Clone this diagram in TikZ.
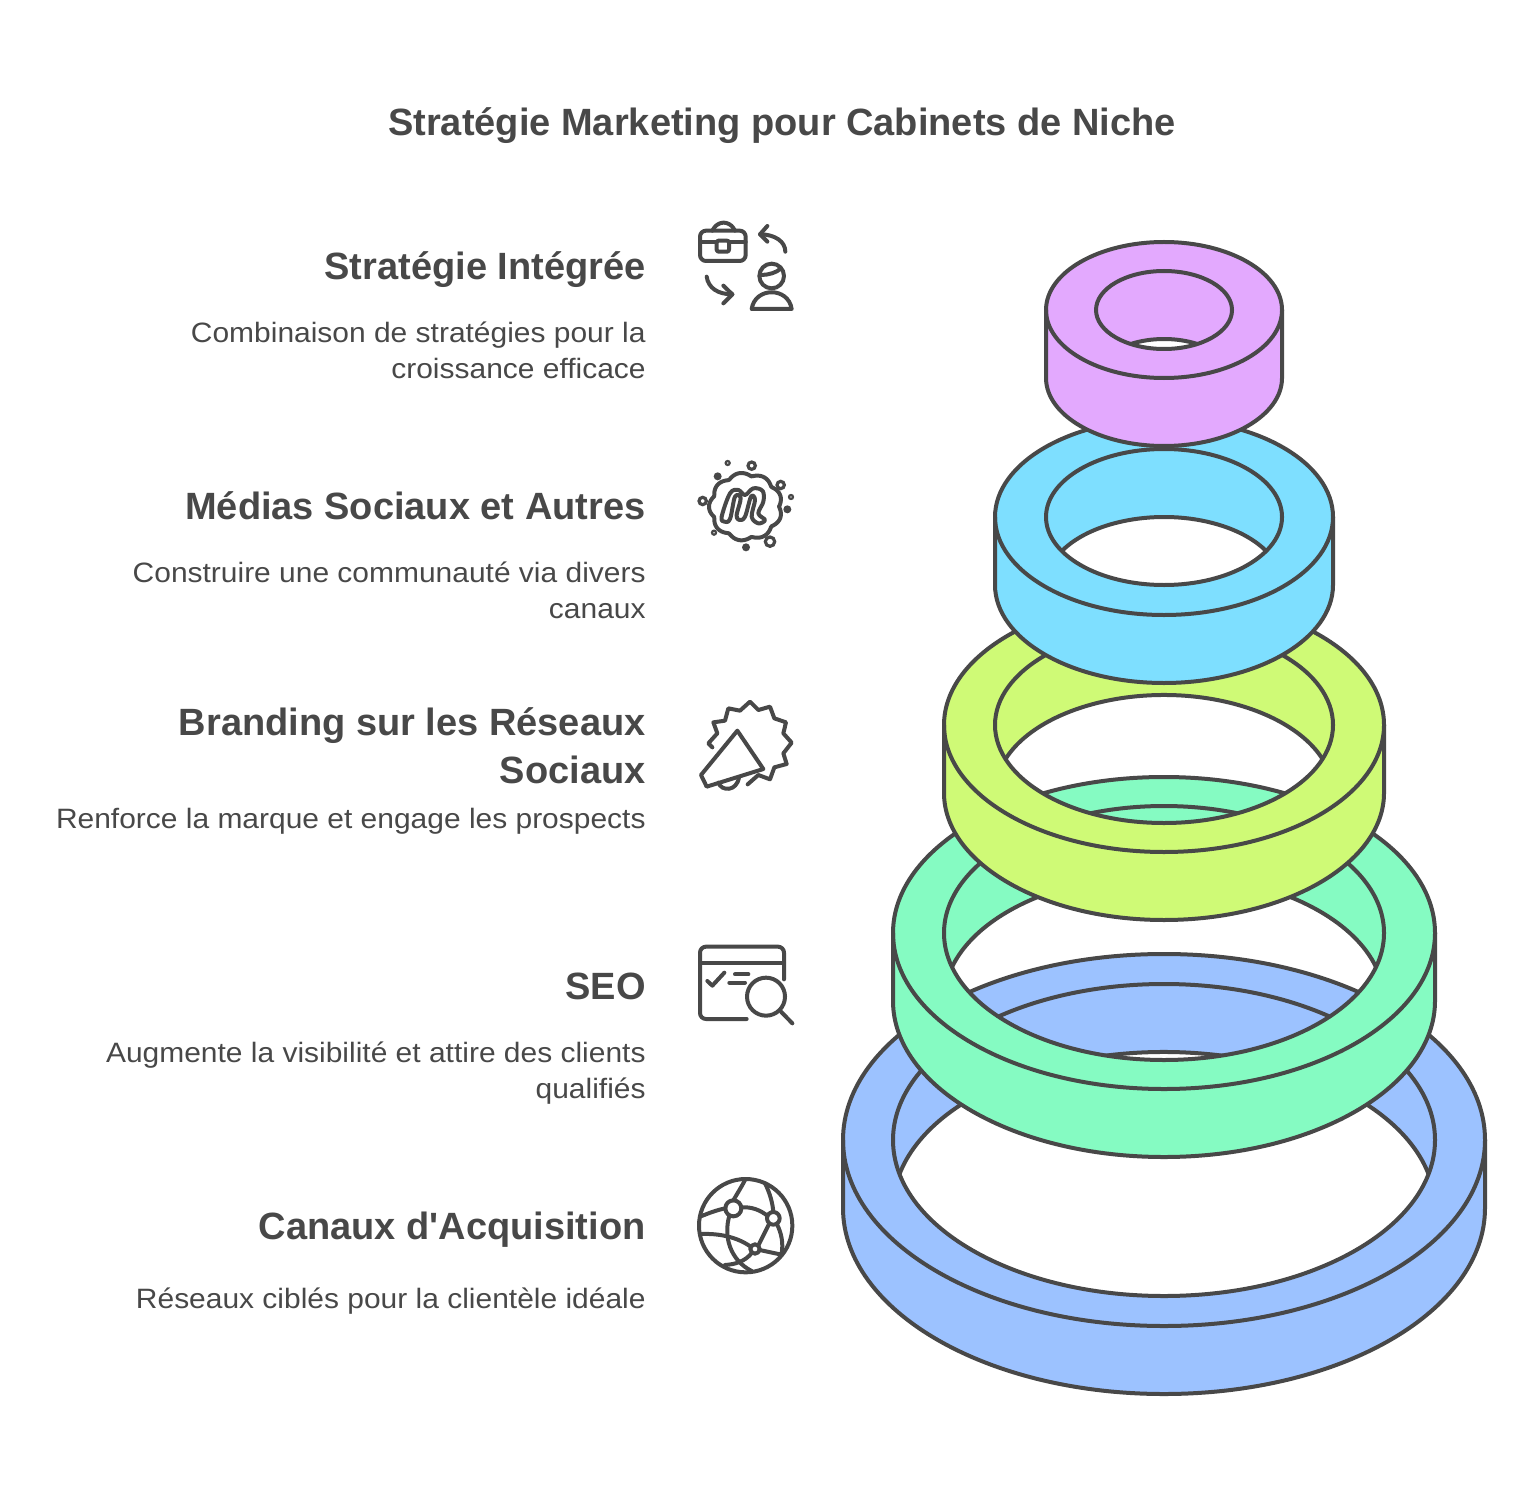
\documentclass[tikz,border=0pt]{standalone}
\usepackage{fontspec}
\setmainfont{Liberation Sans}
\newfontfamily\bodyfont[FakeStretch=1.07]{Liberation Sans}
\definecolor{inkgray}{HTML}{484848}
\definecolor{ringpurple}{HTML}{E3A9FE}
\definecolor{ringcyan}{HTML}{7EDFFF}
\definecolor{ringlime}{HTML}{CFFA76}
\definecolor{ringmint}{HTML}{85FBC2}
\definecolor{ringblue}{HTML}{9CC2FF}
\tikzset{
  title/.style={font=\bfseries\fontsize{19}{24}\selectfont, text=inkgray, inner sep=0pt, anchor=base},
  heading/.style={font=\bfseries\fontsize{19}{24}\selectfont, text=inkgray, inner sep=0pt, align=right, anchor=base east},
  body/.style={font=\bodyfont\fontsize{14}{18}\selectfont, text=inkgray, inner sep=0pt, align=right, anchor=base east},
  ringline/.style={draw=inkgray, line width=2pt, line join=round},
  iconline/.style={draw=inkgray, line width=2pt, line cap=round, line join=round},
  icondot/.style={draw=inkgray, line width=1.6pt},
}
\begin{document}
\begin{tikzpicture}[x=0.5pt, y=-0.5pt]
  \useasboundingbox (0,0) rectangle (1535,1492);

  \node[title] (title) at (782,136) {Stratégie Marketing pour Cabinets de Niche};

  \node[heading] (integree) at (646,280) {Stratégie Intégrée};
  \node[body] (integreetxt) at (646,379) {Combinaison de stratégies pour la\\croissance efficace};
  \node[heading] (medias) at (646,519) {Médias Sociaux et Autres};
  \node[body] (mediastxt) at (646,618) {Construire une communauté via divers\\canaux};
  \node[heading] (branding) at (646,783) {Branding sur les Réseaux\\Sociaux};
  \node[body] (brandingtxt) at (646,828) {Renforce la marque et engage les prospects};
  \node[heading] (seo) at (646,999) {SEO};
  \node[body] (seotxt) at (646,1098) {Augmente la visibilité et attire des clients\\qualifiés};
  \node[heading] (canaux) at (646,1239) {Canaux d\textquotesingle Acquisition};
  \node[body] (canauxtxt) at (646,1308) {Réseaux ciblés pour la clientèle idéale};

  % rings, lowest first
  \foreach \cy/\rx/\ry/\irx/\iry/\col in {
      1140/321/186/271/156/ringblue,
      933/271/156/220/127/ringmint,
      725/220/127/169/98/ringlime,
      517/169/98/118/68/ringcyan,
      310/118/68/68/39/ringpurple} {
    \pgfmathsetmacro{\ang}{asin(34/\iry)}
    \pgfmathsetmacro{\hx}{\irx*cos(\ang)}
    \fill[\col, even odd rule]
      (1164-\rx,\cy) arc[start angle=180, end angle=360, x radius=\rx, y radius=\ry]
      -- ++(0,68) arc[start angle=0, end angle=180, x radius=\rx, y radius=\ry] -- cycle
      (1164-\hx,\cy+34) arc[start angle=180+\ang, end angle=360-\ang, x radius=\irx, y radius=\iry]
      arc[start angle=\ang, end angle=180-\ang, x radius=\irx, y radius=\iry] -- cycle;
    \draw[ringline]
      (1164-\rx,\cy) -- ++(0,68) arc[start angle=180, end angle=0, x radius=\rx, y radius=\ry] -- ++(0,-68);
    \draw[ringline] (1164,\cy) ellipse[x radius=\rx, y radius=\ry];
    \draw[ringline] (1164,\cy) ellipse[x radius=\irx, y radius=\iry];
    \draw[ringline] (1164-\hx,\cy+34) arc[start angle=180+\ang, end angle=360-\ang, x radius=\irx, y radius=\iry];
  }

  % briefcase and person
  \begin{scope}[shift={(680,200)}, scale=1/3]
    \draw[iconline, rounded corners=3pt] (60,92) rectangle (197,183);
    \draw[iconline, rounded corners=3pt] (97,92) -- (112,68) -- (150,68) -- (165,92);
    \draw[iconline] (60,125) -- (110,125) (147,125) -- (197,125);
    \draw[iconline, rounded corners=1pt] (110,122) rectangle (147,155);
    \draw[iconline] (316,155) .. controls (316,125) and (285,103) .. (240,103);
    \draw[iconline] (262,78) -- (240,103) -- (262,125);
    \draw[iconline] (80,230) .. controls (85,265) and (115,283) .. (157,283);
    \draw[iconline] (130,257) -- (157,283) -- (130,310);
    \draw[iconline] (275,228) circle[radius=37];
    \draw[iconline] (243,225) .. controls (265,225) and (290,218) .. (303,205);
    \draw[iconline] (215,327) .. controls (225,260) and (325,260) .. (335,327) -- cycle;
  \end{scope}

  % meetup blob
  \begin{scope}[shift={(680,445)}, scale=1/3]
    \draw[iconline] plot[domain=0:360, samples=140]
      ({197+(100+10*abs(sin(4.5*\x)))*cos(\x)}, {185+(92+10*abs(sin(4.5*\x)))*sin(\x)}) -- cycle;
    \draw[iconline] plot[smooth cycle, tension=0.6] coordinates {
      (125,215) (150,145) (175,135) (195,150) (220,130) (248,138) (250,170) (235,205) (255,225) (235,235)
      (215,215) (225,165) (213,155) (195,215) (178,225) (170,210) (182,160) (165,155) (150,222) (133,230)};
    \foreach \dx/\dy/\dr in {215/62/11, 302/120/11, 68/168/11, 270/290/14} {
      \draw[icondot] (\dx,\dy) circle[radius=\dr];
    }
    \foreach \dx/\dy/\dr in {143/54/6, 333/156/6, 102/263/6} {
      \draw[icondot, line width=1.1pt] (\dx,\dy) circle[radius=\dr];
    }
    \foreach \dx/\dy/\dr in {113/94/12, 322/193/12, 198/307/12} {
      \fill[inkgray] (\dx,\dy) circle[radius=\dr];
    }
  \end{scope}

  % megaphone in a burst
  \begin{scope}[shift={(680,690)}, scale=1/3]
    \draw[iconline] (97,172) -- (85,160) -- (112,130) -- (100,97) -- (135,92) -- (145,55) -- (180,62) -- (210,35)
      -- (235,60) -- (270,50) -- (283,85) -- (318,97) -- (310,130) -- (335,158) -- (310,190) -- (320,222)
      -- (283,232) -- (270,268) -- (235,255) -- (203,283);
    \draw[iconline] (172,122) -- (250,237) -- (80,290) -- (63,255) -- cycle;
    \draw[iconline] (115,278) .. controls (125,305) and (170,305) .. (177,262);
  \end{scope}

  % browser and magnifier
  \begin{scope}[shift={(680,930)}, scale=1/3]
    \draw[iconline, rounded corners=3pt] (200,267) -- (60,267) -- (60,50) -- (312,50) -- (312,148);
    \draw[iconline] (60,98) -- (312,98);
    \draw[iconline] (82,153) -- (97,167) -- (133,128);
    \draw[iconline] (165,133) -- (205,133) (148,158) -- (195,158);
    \draw[iconline] (258,200) circle[radius=57];
    \draw[iconline] (303,245) -- (337,280);
  \end{scope}

  % globe
  \begin{scope}[shift={(680,1165)}, scale=1/3]
    \draw[iconline] (197,182) circle[radius=140];
    \draw[iconline] (160,130) circle[radius=24];
    \draw[iconline] (280,160) circle[radius=19];
    \draw[iconline] (225,252) circle[radius=14];
    \draw[iconline] (195,45) .. controls (185,65) and (172,85) .. (160,106);
    \draw[iconline] (60,155) .. controls (85,145) and (110,135) .. (136,130);
    \draw[iconline] (65,207) .. controls (115,205) and (170,215) .. (212,245);
    \draw[iconline] (184,127) .. controls (215,125) and (240,135) .. (262,152);
    \draw[iconline] (148,152) .. controls (130,215) and (150,285) .. (215,318);
    \draw[iconline] (268,175) -- (235,241);
    \draw[iconline] (280,141) .. controls (278,115) and (270,85) .. (255,55);
    \draw[iconline] (290,176) .. controls (305,205) and (310,235) .. (305,265);
    \draw[iconline] (216,263) .. controls (195,290) and (165,298) .. (135,300);
    \draw[iconline] (239,255) -- (300,268);
  \end{scope}
\end{tikzpicture}
\end{document}
